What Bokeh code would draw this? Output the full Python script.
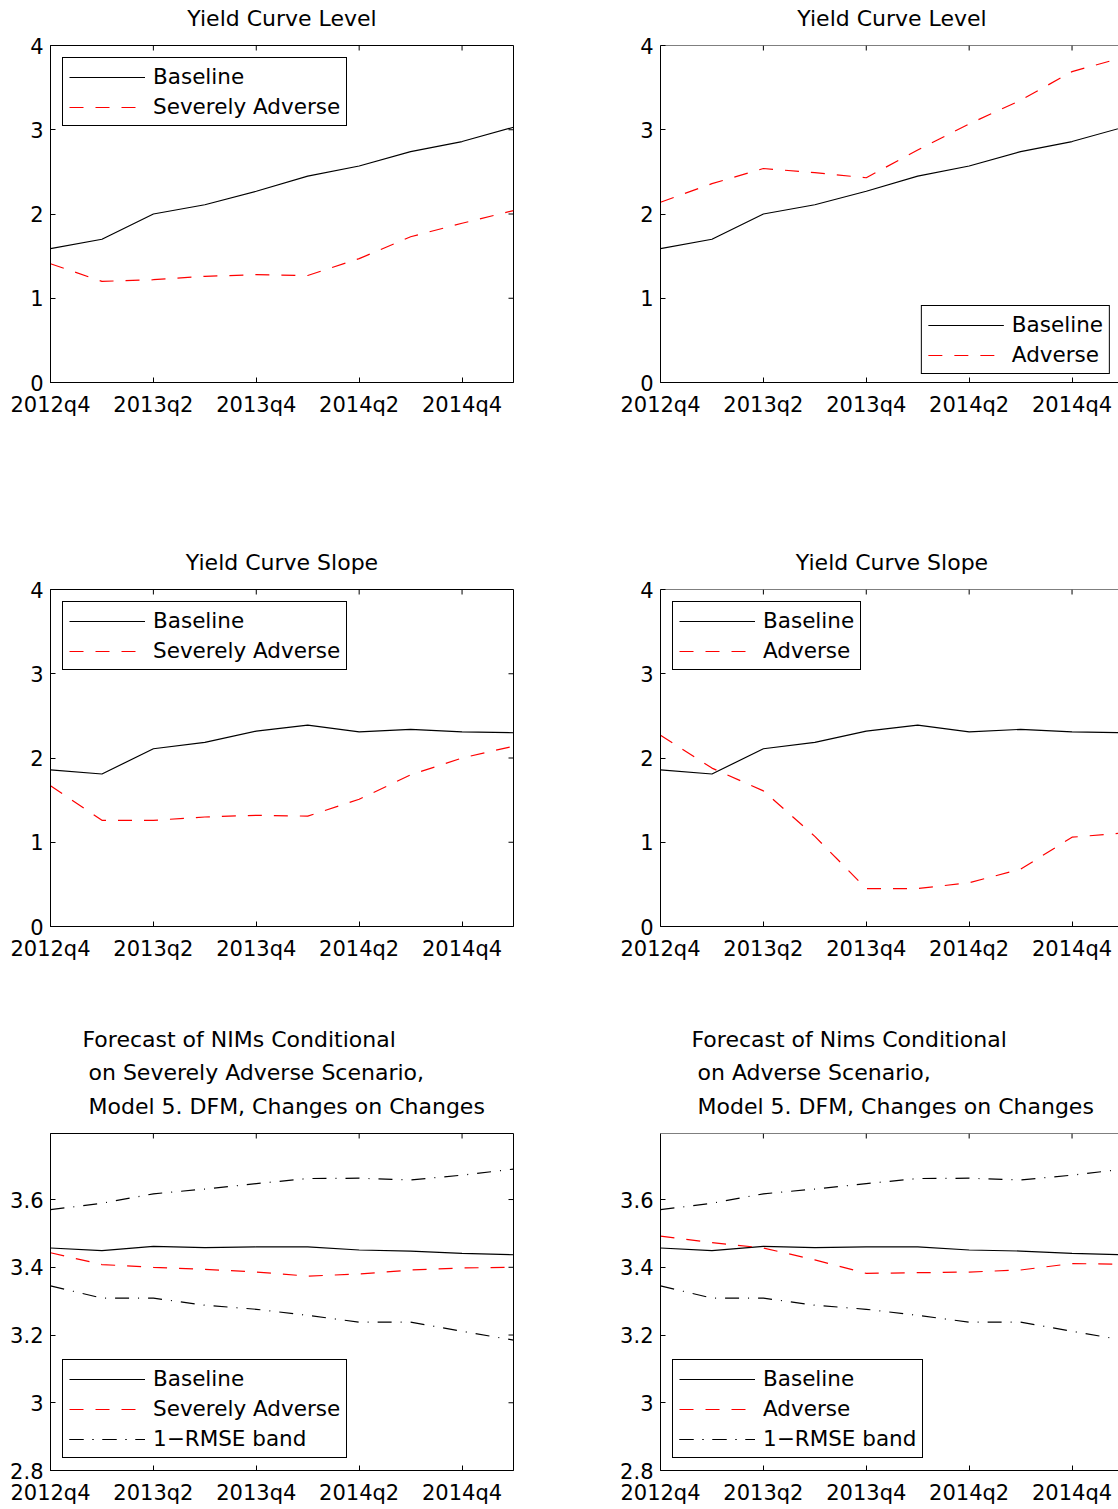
import math
from bokeh.plotting import figure
from bokeh.layouts import column, row
from bokeh.models import Range1d, FixedTicker, Span
from bokeh.core.properties import value
from bokeh.embed import file_html
from bokeh.resources import INLINE

# ---------------- data ----------------
quarters = ["2012q4", "2013q1", "2013q2", "2013q3", "2013q4",
            "2014q1", "2014q2", "2014q3", "2014q4", "2015q1"]
x_tick_labels = ["2012q4", "2013q2", "2013q4", "2014q2", "2014q4"]

level_baseline = [1.59, 1.70, 2.00, 2.11, 2.27, 2.45, 2.57, 2.74, 2.86, 3.03]
level_severely_adverse = [1.41, 1.20, 1.22, 1.26, 1.28, 1.27, 1.47, 1.73, 1.89, 2.04]
level_adverse = [2.14, 2.36, 2.54, 2.49, 2.43, 2.76, 3.07, 3.35, 3.69, 3.86]

slope_baseline = [1.86, 1.81, 2.11, 2.185, 2.32, 2.39, 2.31, 2.34, 2.31, 2.30]
slope_severely_adverse = [1.67, 1.26, 1.26, 1.30, 1.32, 1.31, 1.51, 1.80, 2.00, 2.14]
slope_adverse = [2.27, 1.88, 1.61, 1.07, 0.45, 0.45, 0.52, 0.68, 1.06, 1.11]

nim_baseline = [3.457, 3.449, 3.462, 3.458, 3.460, 3.460, 3.451, 3.448, 3.441, 3.437]
nim_severely_adverse = [3.443, 3.408, 3.400, 3.394, 3.386, 3.374, 3.380, 3.392, 3.398, 3.400]
nim_adverse = [3.492, 3.473, 3.457, 3.422, 3.382, 3.384, 3.386, 3.392, 3.411, 3.409]
nim_band_upper = [3.570, 3.589, 3.617, 3.631, 3.647, 3.662, 3.663, 3.658, 3.672, 3.690]
nim_band_lower = [3.345, 3.309, 3.309, 3.288, 3.276, 3.258, 3.238, 3.238, 3.211, 3.185]

rate_ticks = [0, 1, 2, 3, 4]
rate_tick_labels = ["0", "1", "2", "3", "4"]
nim_ticks = [2.8, 3.0, 3.2, 3.4, 3.6]
nim_tick_labels = ["2.8", "3", "3.2", "3.4", "3.6"]

# ---------------- style ----------------
FONT = "DejaVu Sans"
TICK_FS = "21px"
TITLE_FS = "22px"
LEGEND_FS = "21.5px"
SOLID = "solid"
DASH = "14 12"
DASHDOT = "14 9 1 9"
LW = 1.2
FRAME_H = 337
W_LEFT, W_RIGHT = 608, 510

x_idx = list(range(len(quarters)))
x_tick_pos = [quarters.index(q) for q in x_tick_labels]
x_overrides = {p: l for p, l in zip(x_tick_pos, x_tick_labels)}


def style_axis(ax, standoff):
    ax.axis_line_color = "black"
    ax.axis_line_width = 1
    ax.major_tick_line_color = "black"
    ax.major_tick_line_width = 1
    ax.major_tick_in = 5
    ax.major_tick_out = 0
    ax.minor_tick_line_color = None
    ax.major_label_text_font = FONT
    ax.major_label_text_font_size = TICK_FS
    ax.major_label_text_color = "black"
    ax.major_label_standoff = standoff


def title_block(lines, xs, ys, align, width, height):
    """A strip above a panel that carries the (possibly multi-line) title."""
    t = figure(width=width, height=height,
               x_range=Range1d(0, width), y_range=Range1d(0, height),
               output_backend="svg", toolbar_location=None, tools="",
               x_axis_location=None, y_axis_location=None,
               min_border=0, min_border_left=0, min_border_right=0,
               min_border_top=0, min_border_bottom=0,
               background_fill_color="white", border_fill_color="white",
               outline_line_color=None)
    t.grid.grid_line_color = None
    t.text(x=xs, y=ys, text=lines, text_font=value(FONT),
           text_font_size=value(TITLE_FS), text_color="black",
           text_align=align, text_baseline="alphabetic")
    return t


def make_panel(right_col, y_rng, y_ticks, y_labels, series, legend_loc, legend_margin,
               height, border_top):
    width = W_RIGHT if right_col else W_LEFT
    x_end = 8.903 if right_col else len(quarters) - 1
    p = figure(width=width, height=height,
               x_range=Range1d(0, x_end), y_range=Range1d(*y_rng),
               output_backend="svg", toolbar_location=None, tools="",
               min_border_left=52 if right_col else 50,
               min_border_right=0 if right_col else 95,
               min_border_top=border_top,
               min_border_bottom=height - border_top - FRAME_H,
               background_fill_color="white", border_fill_color="white",
               outline_line_color=None if right_col else "black")
    p.grid.grid_line_color = None

    p.xaxis.ticker = FixedTicker(ticks=x_tick_pos)
    p.xaxis.major_label_overrides = x_overrides
    style_axis(p.xaxis[0], 10)
    p.yaxis.ticker = FixedTicker(ticks=y_ticks)
    p.yaxis.major_label_overrides = {v: l for v, l in zip(y_ticks, y_labels)}
    style_axis(p.yaxis[0], 7)

    # inward ticks on the top edge (and right edge for the left column)
    p.ray(x=x_tick_pos, y=[y_rng[1]] * len(x_tick_pos), length=5,
          length_units="screen", angle=-math.pi / 2, line_color="black", line_width=1)
    if right_col:
        p.add_layout(Span(location=y_rng[1], dimension="width",
                          line_color="black", line_width=1))
    else:
        p.ray(x=[x_end] * len(y_ticks), y=y_ticks, length=5,
              length_units="screen", angle=math.pi, line_color="black", line_width=1)

    for label, ys, color, dash in series:
        for y in ys:
            p.line(x_idx, y, line_color=color, line_width=LW, line_dash=dash,
                   legend_label=label)

    lg = p.legend[0]
    lg.location = legend_loc
    lg.margin = legend_margin
    lg.border_line_color = "black"
    lg.border_line_width = 1
    lg.border_line_alpha = 1
    lg.background_fill_color = "white"
    lg.background_fill_alpha = 1
    lg.label_text_font = FONT
    lg.label_text_font_size = LEGEND_FS
    lg.label_text_color = "black"
    lg.glyph_width = 76
    lg.glyph_height = 20
    lg.label_height = 20
    lg.label_standoff = 8
    lg.padding = 6
    lg.spacing = 5
    return p


# heights of the strips / panels
TH1, TH3 = 32, 113
PH1, PH2, PH3 = 512, 443, 376
BT1, BT3 = 13, 1

t1 = title_block(["Yield Curve Level"], [281.5], [14], "center", W_LEFT, TH1)
t2 = title_block(["Yield Curve Level"], [283.5], [14], "center", W_RIGHT, TH1)
t3 = title_block(["Yield Curve Slope"], [281.5], [14], "center", W_LEFT, TH1)
t4 = title_block(["Yield Curve Slope"], [283.5], [14], "center", W_RIGHT, TH1)
t5 = title_block(["Forecast of NIMs Conditional",
                  "on Severely Adverse Scenario,",
                  "Model 5. DFM, Changes on Changes"],
                 [82, 88, 88], [93, 60, 26], "left", W_LEFT, TH3)
t6 = title_block(["Forecast of Nims Conditional",
                  "on Adverse Scenario,",
                  "Model 5. DFM, Changes on Changes"],
                 [83, 89, 89], [93, 60, 26], "left", W_RIGHT, TH3)

p1 = make_panel(False, (0, 4), rate_ticks, rate_tick_labels,
                [("Baseline", [level_baseline], "black", SOLID),
                 ("Severely Adverse", [level_severely_adverse], "red", DASH)],
                "top_left", 12, PH1, BT1)
p2 = make_panel(True, (0, 4), rate_ticks, rate_tick_labels,
                [("Baseline", [level_baseline], "black", SOLID),
                 ("Adverse", [level_adverse], "red", DASH)],
                "bottom_right", 8, PH1, BT1)
p3 = make_panel(False, (0, 4), rate_ticks, rate_tick_labels,
                [("Baseline", [slope_baseline], "black", SOLID),
                 ("Severely Adverse", [slope_severely_adverse], "red", DASH)],
                "top_left", 12, PH2, BT1)
p4 = make_panel(True, (0, 4), rate_ticks, rate_tick_labels,
                [("Baseline", [slope_baseline], "black", SOLID),
                 ("Adverse", [slope_adverse], "red", DASH)],
                "top_left", 12, PH2, BT1)
p5 = make_panel(False, (2.8, 3.795), nim_ticks, nim_tick_labels,
                [("Baseline", [nim_baseline], "black", SOLID),
                 ("Severely Adverse", [nim_severely_adverse], "red", DASH),
                 ("1\u2212RMSE band", [nim_band_upper, nim_band_lower], "black", DASHDOT)],
                "bottom_left", 12, PH3, BT3)
p6 = make_panel(True, (2.8, 3.795), nim_ticks, nim_tick_labels,
                [("Baseline", [nim_baseline], "black", SOLID),
                 ("Adverse", [nim_adverse], "red", DASH),
                 ("1\u2212RMSE band", [nim_band_upper, nim_band_lower], "black", DASHDOT)],
                "bottom_left", 12, PH3, BT3)

layout = column(row(t1, t2), row(p1, p2),
                row(t3, t4), row(p3, p4),
                row(t5, t6), row(p5, p6))
open("out.html", "w").write(file_html(layout, INLINE))
